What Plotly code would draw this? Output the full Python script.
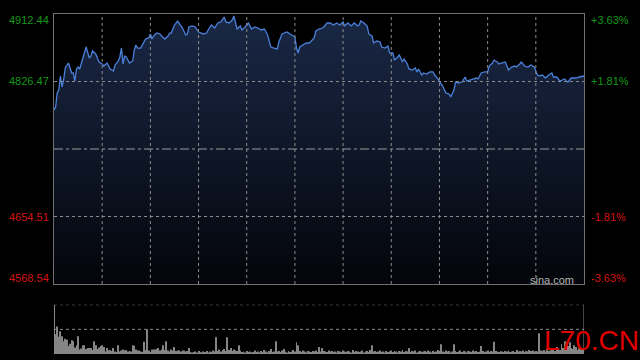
import plotly.graph_objects as go

# ---- data (minutes since open, index level) ----
minutes = [0, 1, 2, 3, 4, 5, 6, 7, 9, 10,
           11, 12, 13, 14, 15, 16, 18, 20, 22, 23,
           24, 26, 28, 30, 31, 33, 35, 36, 37, 38,
           40, 41, 42, 43, 44, 45, 47, 49, 50, 51,
           52, 54, 56, 57, 59, 60, 61, 62, 64, 66,
           67, 69, 71, 72, 73, 75, 77, 78, 80, 82,
           83, 84, 86, 88, 90, 93, 95, 96, 98, 100,
           102, 104, 106, 107, 109, 111, 112, 114, 115, 116,
           117, 119, 121, 123, 125, 127, 129, 131, 133, 135,
           137, 139, 140, 142, 145, 148, 150, 151, 152, 153,
           155, 157, 159, 161, 162, 163, 165, 167, 168, 170,
           172, 174, 176, 178, 180, 181, 183, 185, 187, 189,
           190, 191, 193, 195, 196, 198, 199, 201, 203, 204,
           206, 208, 209, 211, 212, 214, 215, 217, 218, 220,
           221, 223, 225, 226, 227, 229, 230, 232, 234, 236,
           237, 239, 241, 242, 244, 246, 247, 249, 250, 252,
           254, 256, 257, 259, 261, 263, 264, 266, 268, 270,
           271, 273, 274, 276, 277, 279, 281, 283, 285, 287,
           288, 290, 291, 293, 295, 297, 299, 301, 302, 304,
           306, 308, 310, 311, 313, 315, 317, 318, 319, 320,
           322, 325, 327, 329, 330]

prices = [4790.2, 4794.0, 4811.8, 4815.6, 4833.5, 4819.5, 4828.4, 4843.7, 4850.0, 4844.9,
          4837.3, 4837.3, 4827.1, 4842.4, 4844.9, 4842.4, 4857.7, 4870.4, 4856.4, 4858.9,
          4865.3, 4861.5, 4851.3, 4848.8, 4846.2, 4850.0, 4842.4, 4841.1, 4839.8, 4847.5,
          4852.6, 4857.7, 4869.1, 4848.8, 4858.9, 4857.7, 4850.0, 4852.6, 4866.6, 4872.9,
          4869.1, 4869.1, 4876.8, 4880.6, 4881.9, 4887.0, 4880.6, 4884.4, 4888.2, 4887.0,
          4884.4, 4880.6, 4884.4, 4888.2, 4888.2, 4898.4, 4903.5, 4901.0, 4894.6, 4885.7,
          4887.0, 4895.9, 4897.2, 4895.9, 4889.5, 4887.0, 4888.2, 4892.1, 4898.4, 4894.6,
          4901.0, 4902.3, 4908.6, 4902.3, 4901.0, 4904.8, 4909.9, 4893.3, 4895.9, 4897.2,
          4892.1, 4895.9, 4901.0, 4893.3, 4895.9, 4894.6, 4892.1, 4893.3, 4885.7, 4870.4,
          4869.1, 4867.9, 4876.8, 4887.0, 4889.5, 4885.7, 4883.1, 4869.1, 4862.8, 4870.4,
          4872.9, 4875.5, 4875.5, 4880.6, 4881.9, 4890.8, 4893.3, 4894.6, 4895.9, 4901.0,
          4901.0, 4898.4, 4901.0, 4898.4, 4902.3, 4897.2, 4901.0, 4897.2, 4901.0, 4897.2,
          4898.4, 4903.5, 4901.0, 4897.2, 4887.0, 4884.4, 4875.5, 4878.0, 4876.8, 4870.4,
          4869.1, 4871.7, 4862.8, 4862.8, 4853.8, 4857.7, 4860.2, 4851.3, 4855.1, 4848.8,
          4842.4, 4841.1, 4843.7, 4838.6, 4842.4, 4834.7, 4837.3, 4836.0, 4838.6, 4838.6,
          4834.7, 4829.7, 4823.3, 4820.7, 4811.8, 4810.5, 4806.7, 4815.6, 4825.8, 4824.6,
          4825.8, 4832.2, 4827.1, 4828.4, 4829.7, 4830.9, 4829.7, 4837.3, 4838.6, 4838.6,
          4846.2, 4850.0, 4853.8, 4851.3, 4848.8, 4850.0, 4851.3, 4841.1, 4844.9, 4846.2,
          4844.9, 4848.8, 4851.3, 4846.2, 4844.9, 4847.5, 4844.9, 4834.7, 4833.5, 4834.7,
          4830.9, 4834.7, 4837.3, 4832.2, 4832.2, 4827.1, 4828.4, 4829.7, 4827.1, 4825.8,
          4830.9, 4830.9, 4832.2, 4833.5, 4833.5]

# per-minute volume (relative units, panel top = 100)
volume = [100, 40, 56, 35, 46, 36, 26, 31, 29, 16,
          21, 28, 26, 13, 18, 36, 9, 11, 18, 18,
          10, 12, 12, 12, 8, 26, 18, 10, 13, 16,
          18, 14, 5, 12, 7, 8, 6, 12, 5, 4,
          18, 5, 7, 9, 7, 8, 5, 6, 5, 18,
          16, 9, 7, 7, 5, 4, 25, 8, 50, 7,
          4, 9, 9, 9, 10, 12, 7, 9, 18, 8,
          26, 7, 5, 9, 7, 14, 6, 7, 7, 5,
          7, 7, 5, 6, 12, 4, 3, 4, 5, 3,
          6, 4, 3, 5, 4, 6, 3, 5, 4, 7,
          5, 34, 6, 9, 5, 8, 10, 6, 34, 8,
          12, 6, 9, 7, 6, 18, 7, 4, 5, 3,
          6, 4, 5, 3, 4, 7, 4, 5, 3, 6,
          4, 8, 5, 3, 6, 10, 4, 5, 26, 5,
          6, 4, 7, 10, 5, 3, 6, 4, 5, 8,
          5, 24, 18, 6, 4, 7, 5, 3, 6, 5,
          4, 6, 5, 7, 4, 14, 5, 12, 6, 5,
          4, 7, 5, 6, 4, 5, 3, 6, 5, 4,
          7, 5, 4, 6, 5, 3, 8, 4, 6, 5,
          4, 5, 7, 3, 5, 6, 4, 8, 18, 5,
          6, 4, 5, 7, 4, 5, 3, 6, 4, 5,
          7, 4, 6, 5, 3, 6, 5, 8, 4, 6,
          5, 12, 4, 6, 5, 7, 3, 5, 6, 4,
          5, 6, 4, 7, 5, 3, 6, 4, 5, 8,
          6, 20, 5, 4, 7, 5, 6, 3, 5, 20,
          6, 4, 5, 7, 4, 6, 5, 3, 6, 5,
          4, 7, 5, 6, 4, 5, 16, 6, 4, 5,
          7, 4, 6, 5, 25, 6, 5, 4, 6, 5,
          4, 6, 5, 7, 4, 5, 6, 4, 8, 5,
          6, 5, 7, 4, 6, 5, 8, 6, 7, 5,
          6, 5, 42, 7, 6, 8, 5, 12, 6, 7,
          9, 8, 6, 14, 10, 8, 20, 12, 26, 10,
          16, 24, 12, 10, 18, 14, 8, 12, 10, 9,
          12]
vol_minutes = list(range(len(volume)))

prev_close = 4740.49
y_low, y_high = 4568.54, 4912.44
time_grid = [30, 60, 90, 120, 150, 180, 210, 240, 270, 300]
price_grid = [4826.47, 4654.51]
vol_grid = [50, 100]
left_labels = ["4912.44", "4826.47", "4654.51", "4568.54"]
left_values = [4912.44, 4826.47, 4654.51, 4568.54]
right_labels = ["+3.63%", "+1.81%", "-1.81%", "-3.63%"]
label_colors = ["#14991a", "#14991a", "#d41414", "#d41414"]

W, H = 640, 360
x0p, x1p = 54 / W, 584 / W
main_dom = [1 - 284 / H, 1 - 14 / H]
vol_dom = [1 - 354 / H, 1 - 304.7 / H]

fig = go.Figure()

fig.add_trace(go.Scatter(
    x=minutes, y=prices, mode="lines",
    line=dict(color="#4a80da", width=1.3),
    fill="tozeroy",
    fillgradient=dict(type="vertical",
                      colorscale=[[0, "#03050a"], [1, "#1a2846"]],
                      start=y_low, stop=y_high),
    hoverinfo="skip", xaxis="x", yaxis="y"))

fig.add_trace(go.Bar(
    x=vol_minutes, y=volume, marker=dict(color="#858585", line=dict(width=0)),
    hoverinfo="skip", xaxis="x2", yaxis="y2"))

fig.update_layout(
    width=W, height=H, autosize=False,
    margin=dict(l=0, r=0, t=0, b=0),
    paper_bgcolor="#000000", plot_bgcolor="#000000",
    showlegend=False, bargap=0.4,
    font=dict(family="Liberation Sans, Arial, sans-serif", size=11),
    xaxis=dict(domain=[x0p, x1p], range=[0, 330], showticklabels=False, showgrid=False,
               zeroline=False, showline=True, linecolor="#707070", linewidth=1,
               mirror=True, ticks=""),
    yaxis=dict(domain=main_dom, range=[y_low, y_high], showticklabels=False, showgrid=False,
               zeroline=False, showline=True, linecolor="#707070", linewidth=1,
               mirror=True, ticks=""),
    xaxis2=dict(domain=[x0p, x1p], range=[0, 330], anchor="y2", showticklabels=False,
                showgrid=False, zeroline=False, showline=False, ticks=""),
    yaxis2=dict(domain=vol_dom, range=[0, 100], anchor="x2", showticklabels=False,
                showgrid=False, zeroline=False, showline=False, ticks=""),
)

grid = dict(color="#8c8c8c", width=1, dash="dot")
for t in time_grid:
    fig.add_shape(type="line", xref="x", yref="y", x0=t, x1=t, y0=y_low, y1=y_high,
                  line=grid, layer="above")
for p in price_grid:
    fig.add_shape(type="line", xref="x", yref="y", x0=0, x1=330, y0=p, y1=p,
                  line=grid, layer="above")
for v in vol_grid:
    fig.add_shape(type="line", xref="x2", yref="y2", x0=0, x1=330, y0=v, y1=v,
                  line=grid, layer="below")
# previous close dash-dot line
fig.add_shape(type="line", xref="x", yref="y", x0=0, x1=330, y0=prev_close, y1=prev_close,
              line=dict(color="#9a9a9a", width=1, dash="dashdot"), layer="above")
# volume panel side borders
for xb in (0, 330):
    fig.add_shape(type="line", xref="x2", yref="y2", x0=xb, x1=xb, y0=0, y1=100,
                  line=dict(color="#8a8a8a", width=1))

# y labels
label_ypix = [20, None, None, 278]
for lab, val, rlab, col, yp in zip(left_labels, left_values, right_labels, label_colors, label_ypix):
    if yp is None:
        yref, yv = "y", val
    else:
        yref, yv = "paper", 1 - yp / H
    fig.add_annotation(x=51 / W, xref="paper", y=yv, yref=yref, text=lab, showarrow=False,
                       xanchor="right", yanchor="middle", font=dict(color=col, size=11))
    fig.add_annotation(x=589 / W, xref="paper", y=yv, yref=yref, text=rlab, showarrow=False,
                       xanchor="left", yanchor="middle", font=dict(color=col, size=11))

fig.add_annotation(x=552 / W, xref="paper", y=1 - 279.5 / H, yref="paper", text="sina.com",
                   showarrow=False, xanchor="center", yanchor="middle",
                   font=dict(color="#b4b4b4", size=11))
fig.add_annotation(x=591 / W, xref="paper", y=1 - 340 / H, yref="paper", text="L70.CN",
                   showarrow=False, xanchor="center", yanchor="middle",
                   font=dict(color="#e00000", size=28))

fig.write_html("out.html", config={"displayModeBar": False})
